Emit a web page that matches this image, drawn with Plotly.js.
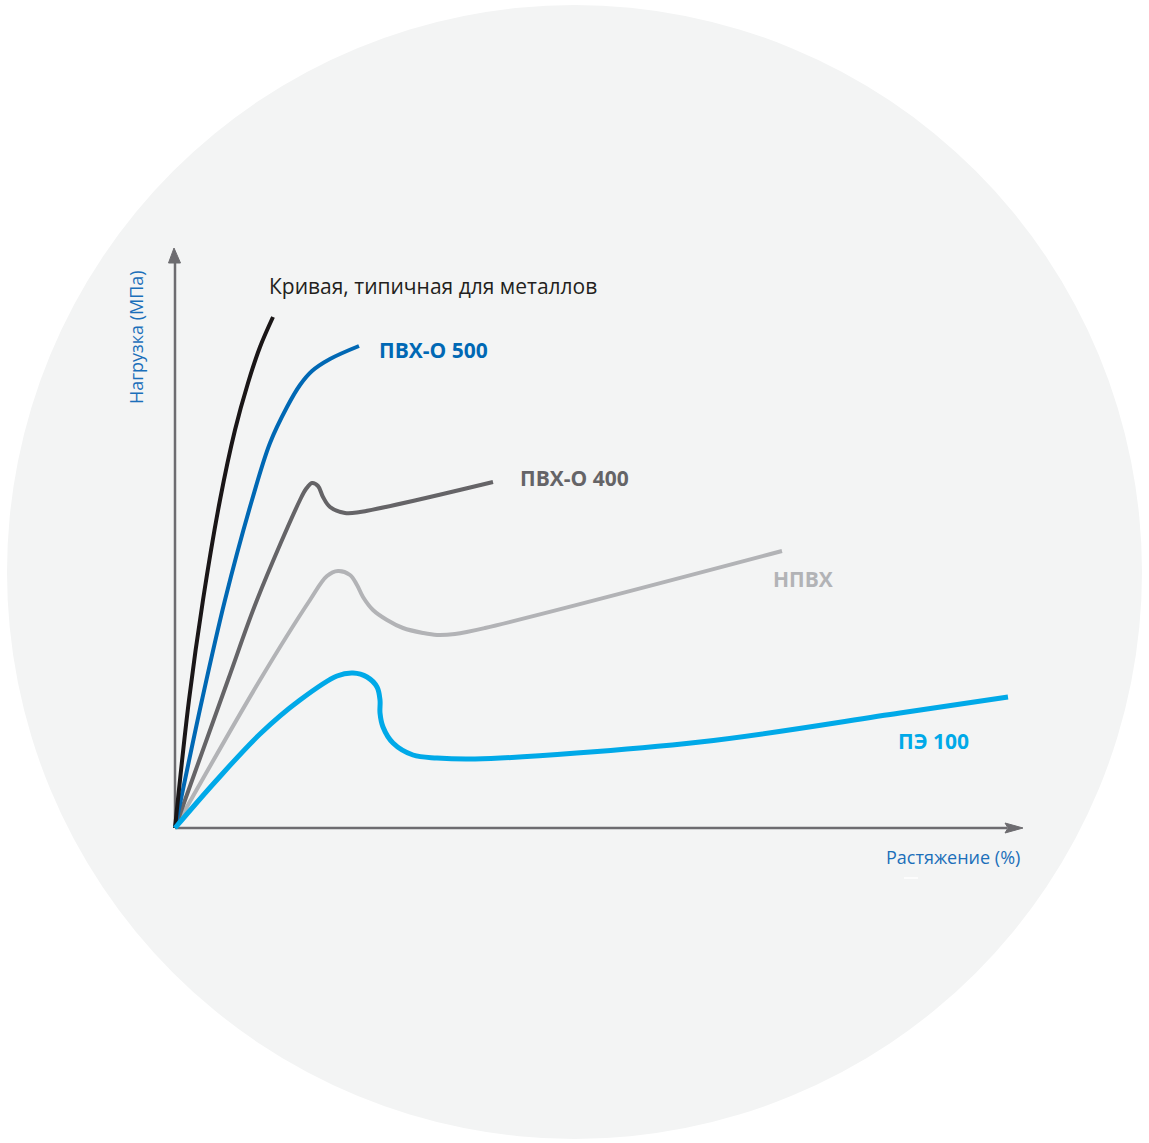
<!DOCTYPE html>
<html>
<head>
<meta charset="utf-8">
<script src="https://cdn.plot.ly/plotly-3.0.1.min.js"></script>
<style>html,body{margin:0;padding:0;background:#fff;}#chart{width:1149px;height:1143px;}</style>
</head>
<body>
<div id="chart"></div>
<script>
// Stress–strain curves (arbitrary units)
const metalX = [0, 14, 28, 45, 60, 73, 85, 98];
const metalY = [0, 128, 228, 328, 398, 445, 481, 511];

const pvco500X = [0, 27, 50, 77, 95, 112, 125, 137, 155, 184];
const pvco500Y = [0, 128, 228, 328, 385, 421, 443, 457, 469, 482];

const pvco400X = [0, 53, 82, 125, 131, 137, 143, 148, 155, 170, 185, 318];
const pvco400Y = [0, 148, 228, 328, 339, 345, 342, 331, 321, 315, 316, 346];

const npvhX = [0, 85, 135, 152, 163, 175, 182, 188, 198, 212, 228, 248, 262, 280, 310, 607];
const npvhY = [0, 148, 228, 252, 257, 253, 243, 231, 218, 208, 200, 195, 193, 194, 200, 277];

const pe100X = [0, 40, 85, 125, 162, 178, 192, 202, 205, 205, 208, 218, 238, 262, 300, 525, 725, 833];
const pe100Y = [0, 46, 94, 128, 152, 155, 151, 141, 128, 115, 101, 85, 73, 70, 69, 86, 115, 131];

const seriesNames = ["Кривая, типичная для металлов", "ПВХ-О 500", "ПВХ-О 400", "НПВХ", "ПЭ 100"];
const yTitle = "Нагрузка (МПа)";
const xTitle = "Растяжение (%)";

const FONT = "Open Sans, Noto Sans, sans-serif";

function curve(x, y, color, width) {
  return {
    type: "scatter", mode: "lines", x: x, y: y,
    line: {color: color, width: width, shape: "spline", smoothing: 1.0},
    hoverinfo: "skip", showlegend: false
  };
}

const data = [
  curve(npvhX, npvhY, "#b2b3b6", 4),
  curve(pvco400X, pvco400Y, "#656467", 4),
  curve(pvco500X, pvco500Y, "#0068b4", 4),
  curve(metalX, metalY, "#1a1617", 4),
  curve(pe100X, pe100Y, "#00a9e8", 5)
];

const axisColor = "#6d6c70";

const layout = {
  width: 1149, height: 1143,
  margin: {l: 167, r: 124, t: 246, b: 307, pad: 0},
  paper_bgcolor: "#ffffff",
  plot_bgcolor: "rgba(0,0,0,0)",
  xaxis: {range: [-8, 850], showgrid: false, zeroline: false, showline: false, showticklabels: false, ticks: "", fixedrange: true},
  yaxis: {range: [-8, 582], showgrid: false, zeroline: false, showline: false, showticklabels: false, ticks: "", fixedrange: true},
  shapes: [
    {type: "circle", xref: "paper", yref: "paper", x0: -0.18648, x1: 1.13636, y0: -0.51356, y1: 1.40847,
     fillcolor: "#f3f4f4", line: {width: 0}, layer: "below"},
    {type: "line", xref: "x", yref: "y", x0: 0, y0: 0, x1: 832, y1: 0, line: {color: axisColor, width: 2.5}, layer: "below"},
    {type: "line", xref: "x", yref: "y", x0: 0, y0: 0, x1: 0, y1: 568, line: {color: axisColor, width: 2.5}, layer: "below"},
    {type: "path", xref: "x", yref: "y", path: "M 848 0 L 830 5 L 833 0 L 830 -5 Z", fillcolor: axisColor, line: {color: axisColor, width: 1}, layer: "below"},
    {type: "path", xref: "x", yref: "y", path: "M -1 580 L -6.5 565 L 5.5 565 Z", fillcolor: axisColor, line: {color: axisColor, width: 1}, layer: "below"},
    {type: "line", xref: "paper", yref: "paper", x0: 0.85897, x1: 0.87529, y0: -0.07119, y1: -0.07119, line: {color: "#ffffff", width: 1.5}}
  ],
  annotations: [
    {xref: "x", yref: "y", x: 92, y: 542, xanchor: "left", yanchor: "middle", showarrow: false,
     text: seriesNames[0], font: {family: FONT, size: 21, color: "#231f20"}},
    {xref: "x", yref: "y", x: 202, y: 478, xanchor: "left", yanchor: "middle", showarrow: false,
     text: "<b>" + seriesNames[1] + "</b>", font: {family: FONT, size: 21, color: "#0068b4"}},
    {xref: "x", yref: "y", x: 343, y: 350, xanchor: "left", yanchor: "middle", showarrow: false,
     text: "<b>" + seriesNames[2] + "</b>", font: {family: FONT, size: 21, color: "#656467"}},
    {xref: "x", yref: "y", x: 596, y: 249, xanchor: "left", yanchor: "middle", showarrow: false,
     text: "<b>" + seriesNames[3] + "</b>", font: {family: FONT, size: 21, color: "#b2b3b6"}},
    {xref: "x", yref: "y", x: 721, y: 87, xanchor: "left", yanchor: "middle", showarrow: false,
     text: "<b>" + seriesNames[4] + "</b>", font: {family: FONT, size: 21, color: "#00a9e8"}},
    {xref: "paper", yref: "paper", x: -0.03613, y: 0.84576, xanchor: "center", yanchor: "middle", showarrow: false,
     textangle: -90, text: yTitle, font: {family: FONT, size: 18, color: "#1b6fba"}},
    {xref: "paper", yref: "paper", x: 0.91608, y: -0.03559, xanchor: "center", yanchor: "middle", showarrow: false,
     text: xTitle, font: {family: FONT, size: 18, color: "#1b6fba"}}
  ]
};

Plotly.newPlot("chart", data, layout, {displayModeBar: false, staticPlot: true});
</script>
</body>
</html>
